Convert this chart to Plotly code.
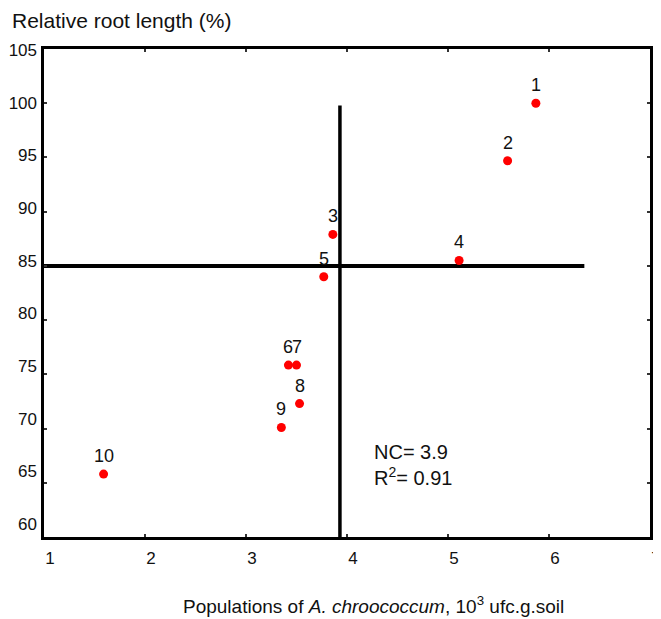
import plotly.graph_objects as go

# data
labels = ["1", "2", "3", "4", "5", "6", "7", "8", "9", "10"]
population = [5.87, 5.59, 3.86, 5.11, 3.77, 3.42, 3.50, 3.53, 3.35, 1.59]
root_length = [100.0, 94.7, 87.9, 85.5, 84.0, 75.85, 75.85, 72.3, 70.1, 65.8]

nc_value = 3.93
hline_y = 85
hline_x = [1, 6.35]
vline_y = [60, 99.8]

x_ticks = [1, 2, 3, 4, 5, 6, 7]
y_ticks = [60, 65, 70, 75, 80, 85, 90, 95, 100, 105]

FONT = "Liberation Sans, Arial, sans-serif"
OFF = 8  # page body margin
W, H = 661, 619 - OFF
L, R, T, B = 44 - OFF, 11 + OFF, 49 - OFF, 82
PW, PH = W - L - R, H - T - B

fig = go.Figure()

fig.add_trace(go.Scatter(x=hline_x, y=[hline_y, hline_y], mode="lines",
                         line=dict(color="black", width=4), hoverinfo="skip"))
fig.add_trace(go.Scatter(x=[nc_value, nc_value], y=vline_y, mode="lines",
                         line=dict(color="black", width=3.5), hoverinfo="skip"))
fig.add_trace(go.Scatter(x=population, y=root_length, mode="markers",
                         marker=dict(color="#ff0000", size=9, line=dict(width=0))))
# invisible trace carrying the y label axis
fig.add_trace(go.Scatter(x=[2], y=[80], yaxis="y2", mode="markers",
                         marker=dict(opacity=0), hoverinfo="skip"))

for lab, xv, yv in zip(labels, population, root_length):
    fig.add_annotation(x=xv, y=yv, text=lab, showarrow=False, yshift=18,
                       font=dict(size=18, color="#111", family=FONT))

fig.add_annotation(x=4.25, y=66.6, xref="x", yref="y", xanchor="left", yanchor="middle",
                   align="left", showarrow=False,
                   text="NC= 3.9<br>R<sup>2</sup>= 0.91",
                   font=dict(size=20, color="#111", family=FONT))

fig.add_annotation(x=(10 - OFF - L) / PW, y=1 + (T - (20 - OFF)) / PH, xref="paper", yref="paper",
                   showarrow=False, xanchor="left", yanchor="middle",
                   text="Relative root length (%)",
                   font=dict(size=21, color="#111", family=FONT))
fig.add_annotation(x=(373 - OFF - L) / PW, y=-(605 - 537) / PH, xref="paper", yref="paper",
                   showarrow=False, xanchor="center", yanchor="middle",
                   text="Populations of <i>A. chroococcum</i>, 10<sup>3</sup> ufc.g.soil",
                   font=dict(size=19, color="#111", family=FONT))

fig.update_layout(
    width=W, height=H,
    margin=dict(l=L, r=R, t=T, b=B, pad=0, autoexpand=False),
    paper_bgcolor="white", plot_bgcolor="white",
    showlegend=False,
    font=dict(family=FONT, color="#111"),
    yaxis2=dict(overlaying="y", anchor="x", side="left", range=[58.77, 105.1], tickvals=y_ticks,
                ticktext=[str(v) for v in y_ticks], showline=False, showgrid=False,
                zeroline=False, ticks="", automargin=False, ticklabelstandoff=6,
                tickfont=dict(size=17, family=FONT, color="#111")),
)

fig.layout.xaxis.update(range=[1, 7], tickvals=x_ticks, ticktext=[str(v) for v in x_ticks],
                        automargin=False, ticklabeloverflow="allow",
                        showgrid=False, zeroline=False, showline=True, linewidth=3,
                        linecolor="black", mirror="ticks", ticks="inside", ticklen=3,
                        tickwidth=1.5, tickcolor="#333", ticklabelshift=6,
                        ticklabelstandoff=4, tickfont=dict(size=17, family=FONT, color="#111"))
fig.layout.yaxis.update(range=[60, 105], tickvals=y_ticks, showticklabels=False,
                        automargin=False,
                        showgrid=False, zeroline=False, showline=True, linewidth=3,
                        linecolor="black", mirror="ticks", ticks="inside", ticklen=3,
                        tickwidth=1.5, tickcolor="#333")

fig.write_html(
    "out.html",
    post_script="document.documentElement.style.overflow='hidden';"
                "document.body.style.overflow='hidden';",
)
